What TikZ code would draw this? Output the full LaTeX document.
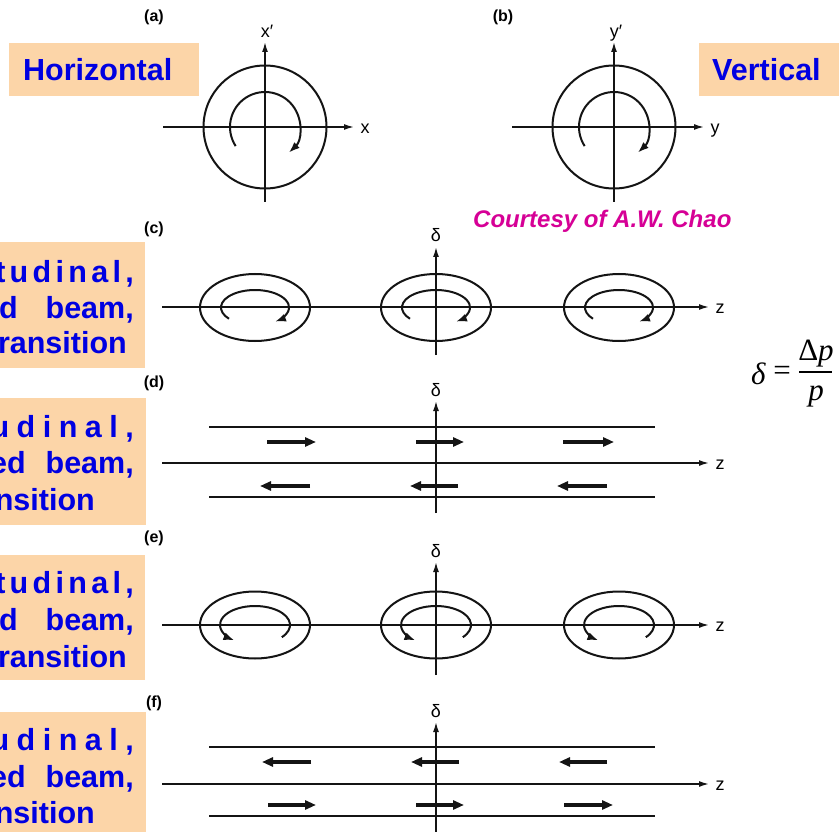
\documentclass[tikz,border=0pt]{standalone}
\usepackage{fontspec}
\setmainfont{Liberation Sans}
\newfontfamily\timesf{Liberation Serif}
\usetikzlibrary{arrows.meta}
\definecolor{peach}{RGB}{252,213,168}
\definecolor{tblue}{RGB}{0,0,225}
\definecolor{cmag}{RGB}{214,0,150}
\definecolor{ink}{RGB}{20,20,20}
\newcommand\lgap{\hspace{4.3pt}}
\newcommand\lgapb{\hspace{7.5pt}}
\begin{document}
\begin{tikzpicture}[x=1pt,y=-1pt,
 axis/.style={draw=ink,line width=1.5pt,-{Latex[length=10pt,width=6pt]}},
 ring/.style={draw=ink,line width=2pt},
 spin/.style={draw=ink,line width=2pt,-{Latex[length=11pt,width=8pt]}},
 rail/.style={draw=ink,line width=1.6pt},
 flow/.style={draw=ink,line width=3.2pt,-{Triangle[length=11pt,width=9pt]}},
 box/.style={fill=peach,inner sep=0pt,anchor=north west},
 lbl/.style={text=tblue,font=\bfseries\fontsize{30.5}{36}\selectfont,inner sep=0pt},
 tag/.style={font=\bfseries\fontsize{16}{18}\selectfont,inner sep=0pt},
 axl/.style={font=\fontsize{18}{20}\selectfont,inner sep=0pt},
 fml/.style={font=\timesf\fontsize{31}{34}\selectfont,inner sep=0pt}]
\useasboundingbox (0,0) rectangle (839,832);
\fill[white] (0,0) rectangle (839,832);

% ---------- side labels ----------
\node[box,minimum width=190pt,minimum height=53pt] (hbox) at (9,43) {};
\node[lbl,anchor=west] (htxt) at (23,70) {Horizontal};
\node[box,minimum width=145pt,minimum height=53pt] (vbox) at (699,43) {};
\node[lbl,anchor=west] (vtxt) at (712,70) {Vertical};

\node[box,minimum width=145pt,minimum height=126pt] (bc) at (0,242) {};
\node[lbl,anchor=base east] (c1) at (134,282) {t\lgap u\lgap d\lgap i\lgap n\lgap a\lgap l\lgap,};
\node[lbl,anchor=base east] (c2) at (134,318) {d\hspace{28pt}beam,};
\node[lbl,anchor=base east] (c3) at (127,353) {ransition};

\node[box,minimum width=146pt,minimum height=127pt] (bd) at (0,398) {};
\node[lbl,anchor=base east] (d1) at (134,437) {u\lgapb d\lgapb i\lgapb n\lgapb a\lgapb l\lgapb,};
\node[lbl,anchor=base east] (d2) at (134,473) {ed\hspace{20pt}beam,};
\node[lbl,anchor=base east] (d3) at (95,510) {nsition};

\node[box,minimum width=145pt,minimum height=125pt] (be) at (0,555) {};
\node[lbl,anchor=base east] (e1) at (134,593) {t\lgap u\lgap d\lgap i\lgap n\lgap a\lgap l\lgap,};
\node[lbl,anchor=base east] (e2) at (134,630) {d\hspace{28pt}beam,};
\node[lbl,anchor=base east] (e3) at (127,667) {ransition};

\node[box,minimum width=146pt,minimum height=125pt] (bf) at (0,712) {};
\node[lbl,anchor=base east] (f1) at (134,750) {u\lgapb d\lgapb i\lgapb n\lgapb a\lgapb l\lgapb,};
\node[lbl,anchor=base east] (f2) at (134,787) {ed\hspace{20pt}beam,};
\node[lbl,anchor=base east] (f3) at (95,823) {nsition};

% ---------- panel tags ----------
\node[tag] (ta) at (154,17) {(a)};
\node[tag] (tb) at (503,17) {(b)};
\node[tag] (tc) at (154,229) {(c)};
\node[tag] (td) at (154,383) {(d)};
\node[tag] (te) at (154,538) {(e)};
\node[tag] (tf) at (154,703) {(f)};

\node[font=\bfseries\itshape\fontsize{24}{26}\selectfont,text=cmag,inner sep=0pt,anchor=base west] (credit) at (473,228) {Courtesy of A.W. Chao};

% ---------- panel (a) ----------
\coordinate (oa) at (265,127);
\coordinate (xa0) at (163,127); \coordinate (xa1) at (354,127);
\coordinate (pa0) at (265,202); \coordinate (pa1) at (265,42);
\draw[axis] (xa0) -- (xa1);
\draw[axis] (pa0) -- (pa1);
\node[axl] (lxa) at (365,129) {x};
\node[axl] (lpa) at (267,31) {x′};
\draw[ring] (oa) circle[radius=61.5];
\draw[spin] ([shift={(-213:35)}]oa) arc[start angle=-213,end angle=47,radius=35];

% ---------- panel (b) ----------
\coordinate (ob) at (614,127);
\coordinate (xb0) at (512,127); \coordinate (xb1) at (704,127);
\coordinate (pb0) at (614,202); \coordinate (pb1) at (614,42);
\draw[axis] (xb0) -- (xb1);
\draw[axis] (pb0) -- (pb1);
\node[axl] (lxb) at (715,131) {y};
\node[axl] (lpb) at (616,33) {y′};
\draw[ring] (ob) circle[radius=61.5];
\draw[spin] ([shift={(-213:35)}]ob) arc[start angle=-213,end angle=47,radius=35];

% ---------- panel (c) ----------
\coordinate (zc0) at (162,307); \coordinate (zc1) at (709,307);
\coordinate (dc0) at (436,355); \coordinate (dc1) at (436,247);
\draw[axis] (zc0) -- (zc1);
\draw[axis] (dc0) -- (dc1);
\node[axl] (lzc) at (720,309) {z};
\node[axl] (ldc) at (436,235) {δ};
\foreach \i/\cx in {1/255,2/436,3/619}{
  \coordinate (cc\i) at (\cx,307.5);
  \draw[ring] (cc\i) ellipse[x radius=55,y radius=33.5];
  \draw[spin] ([shift={(-220:34 and 17.5)}]cc\i) arc[start angle=-220,end angle=54,x radius=34,y radius=17.5];
}

% ---------- panel (d) ----------
\coordinate (rd0) at (209,427); \coordinate (rd1) at (655,427);
\coordinate (sd0) at (209,497); \coordinate (sd1) at (655,497);
\coordinate (zd0) at (162,463); \coordinate (zd1) at (709,463);
\coordinate (dd0) at (436,513); \coordinate (dd1) at (436,401);
\draw[rail] (rd0) -- (rd1);
\draw[rail] (sd0) -- (sd1);
\draw[axis] (zd0) -- (zd1);
\draw[axis] (dd0) -- (dd1);
\node[axl] (lzd) at (720,465) {z};
\node[axl] (ldd) at (436,390) {δ};
\foreach \i/\a/\b in {1/267/316,2/416/464,3/563/614}{
  \coordinate (du\i a) at (\a,442); \coordinate (du\i b) at (\b,442);
  \draw[flow] (du\i a) -- (du\i b);
}
\foreach \i/\a/\b in {1/310/260,2/458/410,3/607/557}{
  \coordinate (dl\i a) at (\a,486); \coordinate (dl\i b) at (\b,486);
  \draw[flow] (dl\i a) -- (dl\i b);
}

% ---------- panel (e) ----------
\coordinate (ze0) at (162,625); \coordinate (ze1) at (709,625);
\coordinate (de0) at (436,675); \coordinate (de1) at (436,562);
\draw[axis] (ze0) -- (ze1);
\draw[axis] (de0) -- (de1);
\node[axl] (lze) at (720,627) {z};
\node[axl] (lde) at (436,551) {δ};
\foreach \i/\cx in {1/255,2/436,3/619}{
  \coordinate (ce\i) at (\cx,625);
  \draw[ring] (ce\i) ellipse[x radius=55,y radius=33.5];
  \draw[spin] ([shift={(40:35 and 19)}]ce\i) arc[start angle=40,end angle=-234,x radius=35,y radius=19];
}

% ---------- panel (f) ----------
\coordinate (rf0) at (209,747); \coordinate (rf1) at (655,747);
\coordinate (sf0) at (209,816); \coordinate (sf1) at (655,816);
\coordinate (zf0) at (162,784); \coordinate (zf1) at (709,784);
\coordinate (df0) at (436,832); \coordinate (df1) at (436,722);
\draw[rail] (rf0) -- (rf1);
\draw[rail] (sf0) -- (sf1);
\draw[axis] (zf0) -- (zf1);
\draw[axis] (df0) -- (df1);
\node[axl] (lzf) at (720,786) {z};
\node[axl] (ldf) at (436,711) {δ};
\foreach \i/\a/\b in {1/311/262,2/459/411,3/607/559}{
  \coordinate (fu\i a) at (\a,762); \coordinate (fu\i b) at (\b,762);
  \draw[flow] (fu\i a) -- (fu\i b);
}
\foreach \i/\a/\b in {1/268/316,2/416/464,3/564/613}{
  \coordinate (fl\i a) at (\a,805); \coordinate (fl\i b) at (\b,805);
  \draw[flow] (fl\i a) -- (fl\i b);
}

% ---------- formula ----------
\node[fml,anchor=base west] (fd) at (751,384) {\itshape δ};
\node[fml] (feq) at (782,373) {=};
\node[fml] (fnum) at (816,354) {Δ\textit{p}};
\coordinate (fb0) at (799,372); \coordinate (fb1) at (832,372);
\draw[line width=1.3pt] (fb0) -- (fb1);
\node[fml] (fden) at (816,396) {\textit{p}};
\end{tikzpicture}
\end{document}
